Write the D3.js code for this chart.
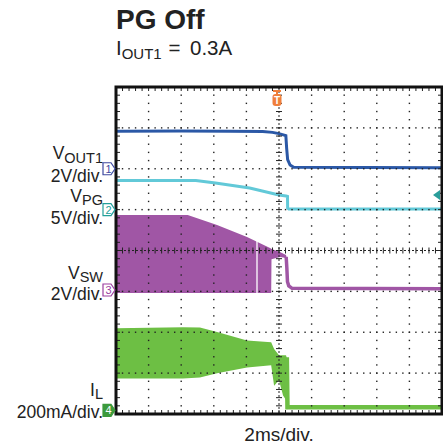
<!DOCTYPE html>
<html><head><meta charset="utf-8">
<script src="https://cdn.jsdelivr.net/npm/d3@7/dist/d3.min.js"></script>
<style>body{margin:0;background:#fff}svg{display:block}text{font-family:"Liberation Sans",Arial,sans-serif;fill:#222}</style>
</head><body>
<script>
// ---- data (time in ms, 2 ms/div; values in channel units) ----
const timeDomain = [-10, 10];
const divDomain = [-4, 4];
// channel scale (units/div) and ground offset (div)
const ch1Scale = 2, ch1Offset = 2.0;      // VOUT1 2V/div
const ch2Scale = 5, ch2Offset = 1.0;      // VPG 5V/div
const ch3Scale = 2, ch3Offset = -0.966;   // VSW 2V/div
const ch4Scale = 0.2, ch4Offset = -3.91;  // IL 200mA/div
const vout1 = [[-10,1.84],[-6,1.85],[-3,1.84],[-1,1.82],[-0.4,1.78],[0,1.72],[0.42,1.62],[0.47,1.0],[0.53,0.45],[0.68,0.18],[0.9,0.07],[10,0.05]];
const vpg = [[-10,3.56],[-5.1,3.56],[-3.9,3.25],[-1.8,2.64],[0,1.78],[0.43,1.66],[0.52,1.62],[0.53,0.2],[0.6,0.07],[10,0.07]];
const vswBand = [[-10,-0.15,3.67],[-5.6,-0.15,3.67],[-3.8,-0.15,3.18],[-1.96,-0.15,2.59],[-0.55,-0.15,2.05],[-0.48,-0.15,2.02],[-0.46,1.5,2.0],[0.06,1.62,1.86],[0.43,1.56,1.71],[0.46,1.5,1.62]];
const vswGaps = [-1.35];
const vswTail = [[0.44,1.62],[0.48,1.1],[0.52,0.4],[0.6,0.2],[0.8,0.08],[10,0.06]];
const ilBand = [[-10,0.156,0.401],[-5.9,0.156,0.406],[-4.85,0.16,0.405],[-3.8,0.181,0.383],[-1.96,0.21,0.342],[-0.48,0.22,0.333],[-0.3,0.12,0.30],[0,0.147,0.27],[0.25,0.073,0.27],[0.43,0.05,0.27],[0.5,0.0,0.25]];
const ilTail = [[0.48,0.26],[0.52,0.015],[10,0.015]];
const trigLevel = 1.8; // on ch2
const labels = [
  {main:"V", sub:"OUT1", y:159, div:"2V/div.", dy:181.5},
  {main:"V", sub:"PG", y:201.5, div:"5V/div.", dy:224},
  {main:"V", sub:"SW", y:278.5, div:"2V/div.", dy:300},
  {main:"I", sub:"L", y:395.5, div:"200mA/div.", dy:418}
];

const W = 443, H = 448;
const svg = d3.select("body").append("svg").attr("width", W).attr("height", H);
svg.append("rect").attr("width", W).attr("height", H).attr("fill", "#fff");

const x = d3.scaleLinear().domain(timeDomain).range([116, 442]);
const y = d3.scaleLinear().domain(divDomain).range([414, 87]);
const chY = (scale, off) => v => y(v / scale + off);
const y1 = chY(ch1Scale, ch1Offset), y2 = chY(ch2Scale, ch2Offset), y3 = chY(ch3Scale, ch3Offset), y4 = chY(ch4Scale, ch4Offset);

const C1 = "#2b58a6", C2 = "#62c9d8", C3 = "#a056a5", C4 = "#6dbf44";

// title
svg.append("text").attr("x", 116).attr("y", 29).attr("font-size", 28).attr("font-weight", "bold").text("PG Off");
const st = svg.append("text").attr("x", 116).attr("y", 55).attr("font-size", 20.5);
st.append("tspan").text("I");
st.append("tspan").attr("font-size", 15).attr("dy", 4).text("OUT1");
st.append("tspan").attr("x", 168.5).attr("dy", -4).text("=");
st.append("tspan").attr("x", 190).text("0.3A");

// traces
const plot = svg.append("g");
plot.append("path").datum(vswBand).attr("fill", C3)
  .attr("d", d3.area().x(d => x(d[0])).y0(d => y3(d[1])).y1(d => y3(d[2])));
vswGaps.forEach(t => {
  plot.append("line").attr("x1", x(t)).attr("x2", x(t)).attr("y1", y3(2.4)).attr("y2", y3(-0.2)).attr("stroke", "#fff").attr("stroke-width", 1.3);
});
plot.append("path").datum(vswTail).attr("fill", "none").attr("stroke", C3).attr("stroke-width", 3.5)
  .attr("d", d3.line().x(d => x(d[0])).y(d => y3(d[1])));
plot.append("path").datum(ilBand).attr("fill", C4)
  .attr("d", d3.area().x(d => x(d[0])).y0(d => y4(d[1])).y1(d => y4(d[2])));
plot.append("path").datum(ilTail).attr("fill", "none").attr("stroke", C4).attr("stroke-width", 4.5)
  .attr("d", d3.line().x(d => x(d[0])).y(d => y4(d[1])));
plot.append("path").datum(vpg).attr("fill", "none").attr("stroke", C2).attr("stroke-width", 3)
  .attr("d", d3.line().x(d => x(d[0])).y(d => y2(d[1])));
plot.append("path").datum(vout1).attr("fill", "none").attr("stroke", C1).attr("stroke-width", 3)
  .attr("d", d3.line().x(d => x(d[0])).y(d => y1(d[1])));

// graticule
const grid = svg.append("g").attr("fill", "#222");
const minorT = d3.range(-10, 10.001, 0.4);
const minorD = d3.range(-4, 4.001, 0.2);
[-8,-6,-4,-2,2,4,6,8].forEach(t => minorD.forEach(d => grid.append("rect").attr("x", x(t)-0.7).attr("y", y(d)-0.7).attr("width", 1.4).attr("height", 1.4)));
[-3,-2,-1,1,2,3].forEach(d => minorT.forEach(t => grid.append("rect").attr("x", x(t)-0.7).attr("y", y(d)-0.7).attr("width", 1.4).attr("height", 1.4)));
const gl = svg.append("g").attr("stroke", "#222").attr("stroke-width", 1);
gl.append("line").attr("x1", x(0)).attr("x2", x(0)).attr("y1", y(4)).attr("y2", y(-4)).attr("stroke-dasharray", "2 2");
gl.append("line").attr("x1", x(-10)).attr("x2", x(10)).attr("y1", y(0)).attr("y2", y(0)).attr("stroke-dasharray", "2 2");
minorD.forEach(d => gl.append("line").attr("x1", x(0)-3).attr("x2", x(0)+3).attr("y1", y(d)).attr("y2", y(d)));
minorT.forEach(t => gl.append("line").attr("x1", x(t)).attr("x2", x(t)).attr("y1", y(0)-3).attr("y2", y(0)+3));
// frame edge ticks
minorD.forEach(d => {
  gl.append("line").attr("x1", x(-10)).attr("x2", x(-10)+4).attr("y1", y(d)).attr("y2", y(d));
  gl.append("line").attr("x1", x(10)-4).attr("x2", x(10)).attr("y1", y(d)).attr("y2", y(d));
});
minorT.forEach(t => {
  gl.append("line").attr("x1", x(t)).attr("x2", x(t)).attr("y1", y(4)).attr("y2", y(4)+4);
  gl.append("line").attr("x1", x(t)).attr("x2", x(t)).attr("y1", y(-4)-4).attr("y2", y(-4));
});
svg.append("rect").attr("x", x(-10)).attr("y", y(4)).attr("width", x(10)-x(-10)).attr("height", y(-4)-y(4))
  .attr("fill", "none").attr("stroke", "#111").attr("stroke-width", 3);

// trigger marker
const tm = svg.append("g");
const tx = x(0) - 2;
tm.append("rect").attr("x", tx-4).attr("y", 90).attr("width", 8).attr("height", 2).attr("fill", "#f07f3c");
tm.append("rect").attr("x", tx-1).attr("y", 91).attr("width", 2).attr("height", 4).attr("fill", "#f07f3c");
tm.append("rect").attr("x", tx-4.5).attr("y", 94).attr("width", 9).attr("height", 12).attr("rx", 3).attr("fill", "#f07f3c");
tm.append("text").attr("x", tx).attr("y", 104).attr("text-anchor", "middle").attr("font-size", 10).attr("font-weight", "bold").style("fill", "#fff").text("T");
// trigger level arrow (right)
const ty = y2(trigLevel);
svg.append("path").attr("d", `M${x(10)-9},${ty} L${x(10)-2},${ty-5} L${x(10)-2},${ty+5} Z`).attr("fill", "#2a9d9a");

// channel markers
const markers = [
  {n:"1", y:y1(0), c:"#3f4aa0", fill:false},
  {n:"2", y:y2(0), c:"#22a09a", fill:false},
  {n:"3", y:y3(0), c:"#9b3f9f", fill:false},
  {n:"4", y:y4(0), c:"#3c9a3c", fill:true}
];
markers.forEach(m => {
  const g = svg.append("g");
  g.append("path").attr("d", `M103,${m.y-6} L111,${m.y-6} L115,${m.y} L111,${m.y+6} L103,${m.y+6} Z`)
    .attr("fill", m.fill ? m.c : "#fff").attr("stroke", m.c).attr("stroke-width", 1.2);
  g.append("text").attr("x", 108.5).attr("y", m.y+4).attr("text-anchor", "middle").attr("font-size", 11)
    .style("fill", m.fill ? "#fff" : m.c).text(m.n);
});

// left labels
labels.forEach(l => {
  const t = svg.append("text").attr("x", 103).attr("y", l.y).attr("text-anchor", "end").attr("font-size", 17.5);
  t.append("tspan").text(l.main);
  t.append("tspan").attr("font-size", 14.5).attr("dy", 3.5).text(l.sub);
  svg.append("text").attr("x", 103).attr("y", l.dy).attr("text-anchor", "end").attr("font-size", 17.5).text(l.div);
});

// bottom label
svg.append("text").attr("x", x(0)).attr("y", 441).attr("text-anchor", "middle").attr("font-size", 19).text("2ms/div.");
</script>
</body></html>
